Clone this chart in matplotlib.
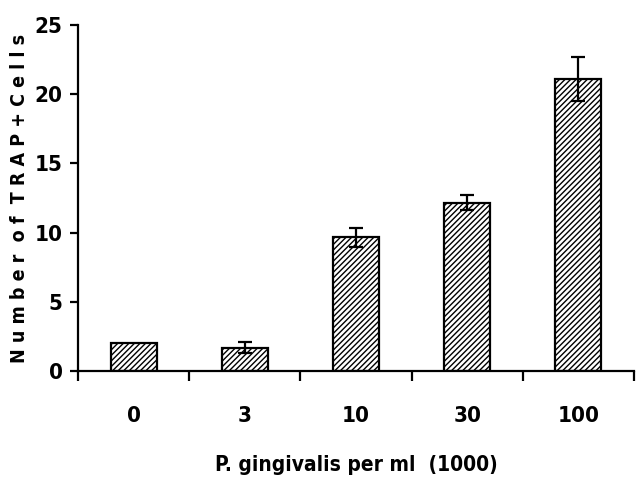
import matplotlib
matplotlib.use("Agg")
import matplotlib.pyplot as plt

categories = ["0", "3", "10", "30", "100"]
values = [2.05, 1.68, 9.65, 12.15, 21.1]
errors = [0.0, 0.4, 0.7, 0.55, 1.6]

plt.rcParams['font.family'] = ['DejaVu Sans']
plt.rcParams['font.stretch'] = 'condensed'
plt.rcParams['hatch.linewidth'] = 1.0

fig = plt.figure(figsize=(6.36, 4.78), dpi=100)
ax = fig.add_axes([78/636, 1-371/478, 556/636, 346/478])

x = list(range(len(categories)))
ax.bar(x, values, width=0.415, color='white', edgecolor='black', linewidth=1.6,
       hatch='//////', zorder=2)
ax.errorbar(x[1:], values[1:], yerr=errors[1:], fmt='none', ecolor='black',
            elinewidth=1.6, capsize=5, capthick=1.6, zorder=3)

ax.set_xlim(-0.5, 4.5)
ax.set_ylim(0, 25)
ax.set_yticks([0, 5, 10, 15, 20, 25])
ax.set_yticklabels(["0", "5", "10", "15", "20", "25"], fontsize=16, fontweight='bold',
                   fontstretch='condensed')
ax.set_xticks(x)
ax.set_xticklabels(categories, fontsize=16, fontweight='bold', fontstretch='condensed')
ax.set_xticks([-0.5, 0.5, 1.5, 2.5, 3.5, 4.5], minor=True)
ax.tick_params(axis='x', which='major', length=0, pad=25)
ax.tick_params(axis='x', which='minor', length=7, width=1.6, direction='out')
ax.tick_params(axis='y', length=6, width=1.6, direction='out', pad=5)
for s in ['top', 'right']:
    ax.spines[s].set_visible(False)
ax.spines['left'].set_linewidth(1.6)
ax.spines['bottom'].set_linewidth(1.6)

ax.set_xlabel("P. gingivalis per ml  (1000)", fontsize=15, fontweight='bold',
              fontstretch='condensed', labelpad=21)
fig.text(20/636, 1-198/478, "N u m b e r  o f  T R A P + C e l l s", rotation=90,
         fontsize=14, fontweight='bold', fontstretch='condensed', ha='center', va='center')

fig.savefig("out.png", dpi=100)
